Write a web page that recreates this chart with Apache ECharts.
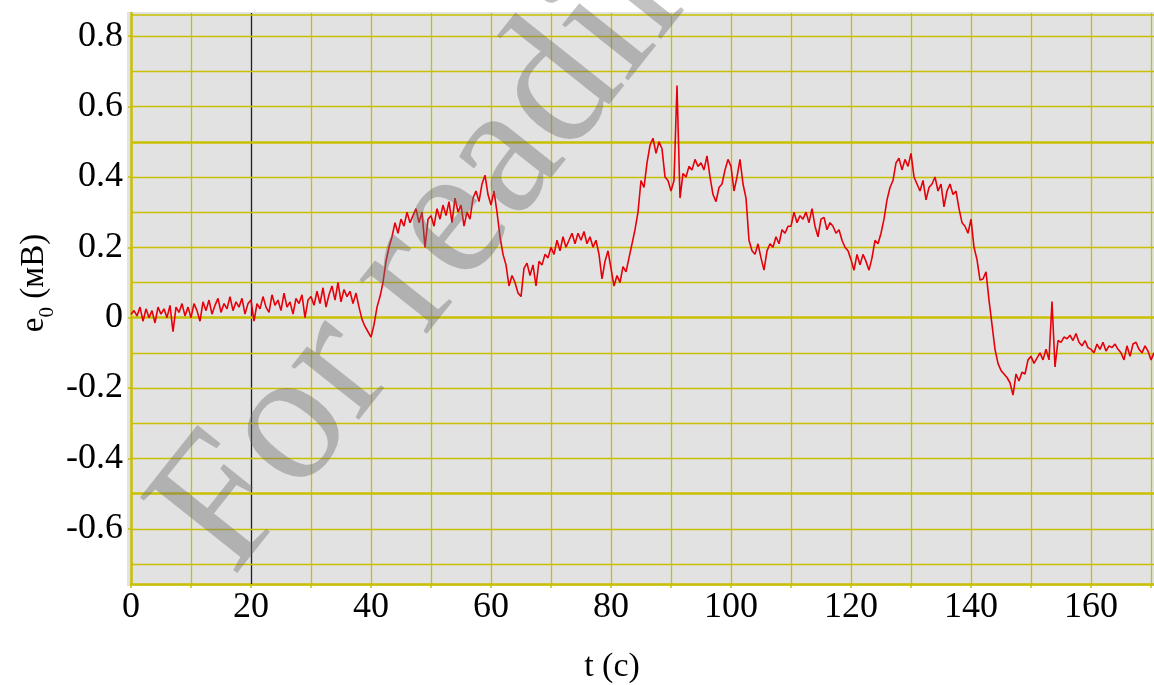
<!DOCTYPE html>
<html>
<head>
<meta charset="utf-8">
<script src="https://cdn.jsdelivr.net/npm/echarts@6/dist/echarts.min.js"></script>
<style>
html,body{margin:0;padding:0;background:#fff;}
#chart{width:1154px;height:685px;}
</style>
</head>
<body>
<div id="chart"></div>
<script>
// sampling step of the record, seconds
const tStep = 0.5;
// e0 (mV), one row per 10 s (20 samples each)
const e0_000 = [0.01,0.02,0.005,0.03,-0.01,0.025,0.0,0.02,-0.015,0.03,0.01,0.025,0.0,0.035,-0.04,0.03,0.015,0.04,0.005,0.03];
const e0_010 = [0.0,0.04,0.02,-0.01,0.045,0.02,0.05,0.01,0.035,0.055,0.015,0.04,0.025,0.06,0.02,0.045,0.03,0.055,0.01,0.04];
const e0_020 = [0.05,-0.01,0.04,0.025,0.06,0.03,0.015,0.065,0.035,0.05,0.02,0.07,0.03,0.045,0.01,0.055,0.04,0.065,0.0,0.05];
const e0_030 = [0.06,0.035,0.075,0.04,0.085,0.03,0.065,0.09,0.05,0.1,0.045,0.08,0.06,0.075,0.04,0.07,0.03,-0.005,-0.025,-0.04];
const e0_040 = [-0.055,-0.02,0.03,0.06,0.1,0.16,0.2,0.23,0.27,0.24,0.28,0.26,0.3,0.27,0.29,0.31,0.27,0.3,0.2,0.28];
const e0_050 = [0.29,0.26,0.31,0.28,0.32,0.29,0.33,0.27,0.34,0.3,0.32,0.26,0.3,0.28,0.34,0.36,0.33,0.38,0.405,0.35];
const e0_060 = [0.32,0.36,0.3,0.23,0.18,0.15,0.09,0.12,0.1,0.07,0.06,0.14,0.155,0.12,0.15,0.09,0.16,0.15,0.18,0.17];
const e0_070 = [0.2,0.18,0.22,0.19,0.23,0.2,0.22,0.24,0.21,0.24,0.22,0.245,0.21,0.23,0.2,0.22,0.18,0.11,0.16,0.19];
const e0_080 = [0.14,0.09,0.12,0.1,0.145,0.13,0.17,0.21,0.25,0.3,0.39,0.37,0.44,0.49,0.51,0.467,0.5,0.48,0.4,0.39];
const e0_090 = [0.36,0.39,0.66,0.34,0.41,0.4,0.43,0.42,0.45,0.43,0.44,0.42,0.46,0.4,0.35,0.33,0.37,0.38,0.42,0.45];
const e0_100 = [0.43,0.36,0.4,0.45,0.38,0.34,0.22,0.19,0.18,0.21,0.17,0.135,0.19,0.21,0.2,0.23,0.21,0.25,0.24,0.26];
const e0_110 = [0.26,0.3,0.27,0.29,0.28,0.3,0.27,0.31,0.26,0.23,0.28,0.285,0.25,0.27,0.26,0.24,0.25,0.22,0.2,0.19];
const e0_120 = [0.165,0.135,0.18,0.15,0.18,0.16,0.135,0.17,0.22,0.21,0.24,0.28,0.335,0.37,0.39,0.44,0.453,0.42,0.45,0.43];
const e0_130 = [0.467,0.4,0.38,0.36,0.39,0.335,0.37,0.38,0.4,0.36,0.38,0.315,0.36,0.38,0.35,0.36,0.31,0.27,0.26,0.24];
const e0_140 = [0.28,0.2,0.165,0.107,0.11,0.13,0.05,-0.02,-0.09,-0.13,-0.15,-0.16,-0.17,-0.185,-0.22,-0.16,-0.18,-0.155,-0.16,-0.12];
const e0_150 = [-0.11,-0.13,-0.115,-0.1,-0.12,-0.09,-0.12,0.046,-0.14,-0.065,-0.07,-0.055,-0.06,-0.05,-0.065,-0.045,-0.07,-0.08,-0.065,-0.085];
const e0_160 = [-0.09,-0.1,-0.075,-0.09,-0.07,-0.095,-0.08,-0.085,-0.075,-0.09,-0.1,-0.12,-0.08,-0.11,-0.075,-0.07,-0.09,-0.1,-0.08,-0.095];
const e0_170 = [-0.12,-0.1];

// tick labels
const yTickLabels = [-0.6,-0.4,-0.2,0,0.2,0.4,0.6,0.8];
const xTickLabels = [0,20,40,60,80,100,120,140,160];
// grid line positions
const vGrid = [10,20,30,40,50,60,70,80,90,100,110,120,130,140,150,160,170];
const hGrid = [-0.7,-0.6,-0.5,-0.4,-0.3,-0.2,-0.1,0,0.1,0.2,0.3,0.4,0.5,0.6,0.7,0.8];
const hGridBold = [-0.5,0,0.5];
const xMin = 0, xMax = 170.5, yMin = -0.757, yMax = 0.866;

const rows = [e0_000,e0_010,e0_020,e0_030,e0_040,e0_050,e0_060,e0_070,e0_080,e0_090,e0_100,e0_110,e0_120,e0_130,e0_140,e0_150,e0_160,e0_170];
const values = [].concat(...rows);
const seriesData = values.map((v, i) => [i * tStep, v]);

const YEL = '#c8c000';
const mlData = [];
vGrid.forEach(x => mlData.push({xAxis: x, lineStyle: {color: x === 20 ? '#1c1c3a' : YEL, width: 1.3, type: 'solid'}}));
hGrid.forEach(y => {
  const bold = hGridBold.indexOf(y) >= 0;
  mlData.push({yAxis: y, lineStyle: {color: YEL, width: bold ? 2.5 : 1.3, type: 'solid'}});
});
mlData.push({yAxis: yMax - 0.002, lineStyle: {color: YEL, width: 1.5, type: 'solid'}});

const chart = echarts.init(document.getElementById('chart'), null, {renderer: 'canvas'});
const serif = '"Liberation Serif","Times New Roman",serif';
chart.setOption({
  animation: false,
  backgroundColor: '#ffffff',
  grid: {left: 131, right: 0, top: 13, bottom: 101, containLabel: false},
  xAxis: {
    type: 'value', min: xMin, max: xMax, interval: 10,
    axisLine: {show: true, onZero: false, lineStyle: {color: YEL, width: 2.5}},
    axisTick: {show: true, length: 4, lineStyle: {color: YEL, width: 1.5}},
    axisLabel: {
      show: true, margin: 6, color: '#000', fontSize: 36, fontFamily: serif,
      showMaxLabel: false,
      formatter: v => (xTickLabels.indexOf(v) >= 0 ? String(v) : '')
    },
    splitLine: {show: false}
  },
  yAxis: {
    type: 'value', min: yMin, max: yMax,
    axisLine: {show: true, onZero: false, lineStyle: {color: YEL, width: 2.5}},
    axisTick: {show: true, length: 3, inside: false, customValues: yTickLabels, lineStyle: {color: YEL, width: 1.5}},
    axisLabel: {show: true, margin: 8, color: '#000', fontSize: 36, fontFamily: serif, customValues: yTickLabels,
      formatter: v => String(Math.round(v * 10) / 10)},
    splitLine: {show: false}
  },
  graphic: [
    {type: 'rect', z: -10, silent: true, shape: {x: 127, y: 12, width: 1027, height: 574}, style: {fill: '#e2e2e2'}},
    {type: 'text', z: 50, silent: true, x: 38, y: 283, rotation: Math.PI / 2,
      style: {text: '{a|e}{b|0}{a| (мВ)}', align: 'center', verticalAlign: 'middle', fill: '#000',
        rich: {a: {fontSize: 33, fontFamily: serif, fill: '#000', verticalAlign: 'top', lineHeight: 40},
               b: {fontSize: 21, fontFamily: serif, fill: '#000', verticalAlign: 'bottom', lineHeight: 40}}}},
    {type: 'text', z: 50, silent: true, x: 612, y: 667,
      style: {text: 't (с)', align: 'center', verticalAlign: 'middle', fill: '#000', font: '34px ' + serif}},
    {type: 'text', z: 100, silent: true, x: 268, y: 606, rotation: 0.9,
      style: {text: 'For reading only', align: 'left', verticalAlign: 'bottom', fill: 'rgba(110,110,110,0.42)', font: '188px ' + serif}}
  ],
  series: [
    {type: 'line', data: [], z: 1, silent: true,
      markLine: {silent: true, symbol: ['none', 'none'], label: {show: false}, animation: false, data: mlData}},
    {type: 'line', data: seriesData, z: 5, showSymbol: false, symbol: 'none', silent: true,
      lineStyle: {color: '#e6000a', width: 1.6}}
  ]
});
</script>
</body>
</html>
